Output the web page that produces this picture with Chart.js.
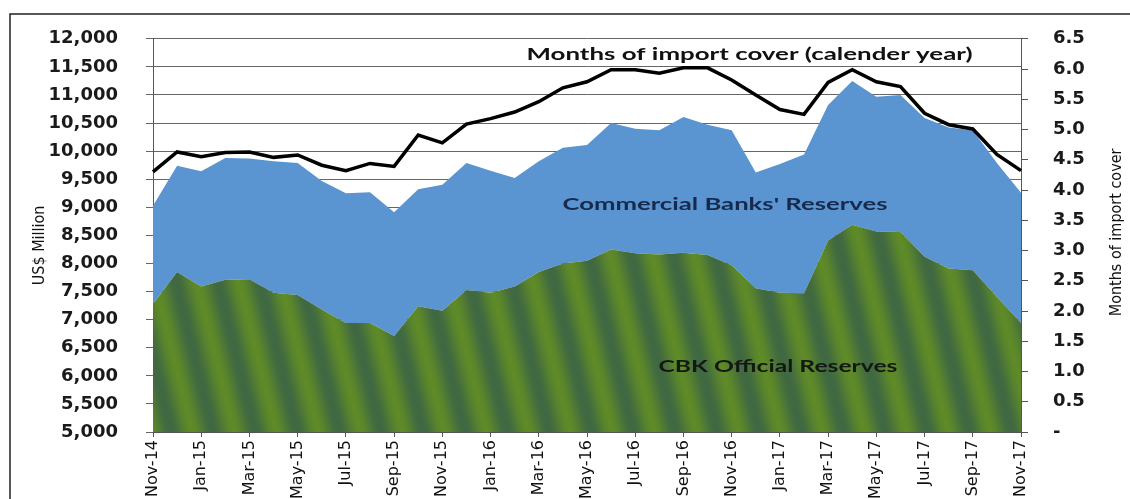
<!DOCTYPE html>
<html>
<head>
<meta charset="utf-8">
<script src="https://cdn.jsdelivr.net/npm/chart.js@4.4.1/dist/chart.umd.min.js"></script>
<style>
  html, body { margin: 0; padding: 0; background: #fff; }
  #wrap { width: 1130px; height: 499px; }
</style>
</head>
<body>
<div id="wrap"><canvas id="reservesChart" width="1130" height="499"></canvas></div>
<script>
// months, Nov-14 .. Nov-17
const months = ["Nov-14","Dec-14","Jan-15","Feb-15","Mar-15","Apr-15","May-15","Jun-15","Jul-15","Aug-15",
    "Sep-15","Oct-15","Nov-15","Dec-15","Jan-16","Feb-16","Mar-16","Apr-16","May-16","Jun-16",
    "Jul-16","Aug-16","Sep-16","Oct-16","Nov-16","Dec-16","Jan-17","Feb-17","Mar-17","Apr-17",
    "May-17","Jun-17","Jul-17","Aug-17","Sep-17","Oct-17","Nov-17"];

// US$ million (stacked: CBK at the bottom, commercial banks on top)
const cbkReserves = [7280,7850,7590,7710,7720,7480,7440,7180,6940,6940,
    6710,7240,7160,7530,7480,7590,7850,8000,8050,8250,
    8180,8160,8190,8150,7970,7560,7480,7470,8410,8690,
    8570,8560,8120,7910,7880,7410,6940];
const bankReserves = [1750,1890,2050,2170,2150,2340,2350,2290,2310,2330,
    2200,2080,2240,2260,2170,1930,1970,2060,2060,2250,
    2220,2210,2420,2320,2400,2060,2290,2470,2410,2560,
    2400,2440,2470,2510,2490,2380,2320];

// months of import cover (right axis)
const importCover = [4.30,4.63,4.55,4.62,4.63,4.54,4.58,4.41,4.32,4.44,
    4.39,4.91,4.78,5.09,5.18,5.29,5.46,5.69,5.79,5.99,
    5.99,5.93,6.02,6.02,5.82,5.57,5.33,5.25,5.78,5.99,
    5.79,5.71,5.27,5.08,5.01,4.59,4.32];

const leftTicks = { min: 5000, max: 12000, step: 500 };
const rightTicks = { min: 0, max: 6.5, step: 0.5 };

// striped green fill like the scanned original
function makeStripes() {
    const w = 42, h = 168;
    const c = document.createElement("canvas");
    c.width = w; c.height = h;
    const g = c.getContext("2d");
    const img = g.createImageData(w, h);
    const light = [94, 138, 40], dark = [64, 104, 66];
    for (let y = 0; y < h; y++) {
        for (let x = 0; x < w; x++) {
            const ph = ((x - 0.25 * y) % w + w) % w / w;
            const t = 0.5 + 0.5 * Math.cos(2 * Math.PI * ph);
            const k = (y * w + x) * 4;
            for (let j = 0; j < 3; j++) img.data[k + j] = Math.round(dark[j] + (light[j] - dark[j]) * t);
            img.data[k + 3] = 255;
        }
    }
    g.putImageData(img, 0, 0);
    return g.createPattern(c, "repeat");
}

// text squeezed/stretched to the width it has in the original
function wideText(ctx, text, cx, cy, width) {
    const sx = width / ctx.measureText(text).width;
    ctx.save();
    ctx.translate(cx, cy);
    ctx.scale(sx, 1);
    ctx.fillText(text, 0, 0);
    ctx.restore();
}

const textPlugin = {
    id: "textPlugin",
    afterDraw(chart) {
        const ctx = chart.ctx;
        const x = chart.scales.x, y = chart.scales.y;
        ctx.save();
        // outer frame
        ctx.strokeStyle = "#222";
        ctx.lineWidth = 1.5;
        ctx.beginPath();
        ctx.moveTo(10, 499); ctx.lineTo(10, 14); ctx.lineTo(1130, 14);
        ctx.stroke();

        ctx.textAlign = "center";
        ctx.textBaseline = "middle";
        ctx.font = "bold 17px Lato";
        ctx.fillStyle = "#111";
        wideText(ctx, "Months of import cover (calender year)", x.getPixelForValue(24.74), y.getPixelForValue(11714), 446);

        ctx.fillStyle = "#172a4c";
        wideText(ctx, "Commercial Banks' Reserves", x.getPixelForValue(23.72), y.getPixelForValue(9058), 325);
        ctx.fillStyle = "#141812";
        wideText(ctx, "CBK Official Reserves", x.getPixelForValue(25.92), y.getPixelForValue(6158), 239);

        // axis titles, both reading bottom to top
        ctx.font = "16px 'DejaVu Sans Condensed', 'DejaVu Sans'";
        ctx.fillStyle = "#111";
        const midY = (chart.chartArea.top + chart.chartArea.bottom) / 2;
        ctx.translate(40, midY + 10);
        ctx.rotate(-Math.PI / 2);
        ctx.fillText("US$ Million", 0, 0);
        ctx.rotate(Math.PI / 2);
        ctx.translate(-40, -(midY + 10));
        ctx.translate(1117, midY - 3);
        ctx.rotate(-Math.PI / 2);
        ctx.fillText("Months of import cover", 0, 0);
        ctx.restore();
    }
};

const ctx = document.getElementById("reservesChart").getContext("2d");
const tickFont = { family: "'DejaVu Sans'", size: 18, weight: "bold" };

new Chart(ctx, {
    type: "line",
    data: {
        labels: months,
        datasets: [
            {
                // first dataset is drawn last, so the line sits on top
                label: "Months of import cover",
                data: importCover,
                yAxisID: "y1",
                borderColor: "#000",
                borderWidth: 3.5,
                fill: false,
                pointRadius: 0,
                tension: 0
            },
            {
                label: "CBK Official Reserves",
                data: cbkReserves,
                yAxisID: "y",
                backgroundColor: makeStripes(),
                borderColor: "rgba(0,0,0,0)",
                borderWidth: 0,
                fill: "start",
                pointRadius: 0,
                tension: 0
            },
            {
                label: "Commercial Banks' Reserves",
                data: bankReserves,
                yAxisID: "y",
                backgroundColor: "#5a95d2",
                borderColor: "rgba(0,0,0,0)",
                borderWidth: 0,
                fill: "-1",
                pointRadius: 0,
                tension: 0
            }
        ]
    },
    options: {
        responsive: false,
        animation: false,
        devicePixelRatio: 1,
        layout: { padding: { top: 33, left: 0, right: 0, bottom: 0 } },
        plugins: {
            legend: { display: false },
            tooltip: { enabled: false }
        },
        scales: {
            x: {
                grid: { display: true, drawOnChartArea: false, drawTicks: true, tickLength: 5, color: "#555" },
                border: { display: true, color: "#555" },
                ticks: {
                    autoSkip: false,
                    maxRotation: 90,
                    minRotation: 90,
                    padding: 3,
                    color: "#111",
                    font: { family: "'DejaVu Sans'", size: 16 },
                    callback: function (val, i) { return i % 2 === 0 ? months[i] : null; }
                },
                afterFit: function (s) { s.height = 67; }
            },
            y: {
                position: "left",
                stacked: true,
                min: leftTicks.min,
                max: leftTicks.max,
                grid: { color: "#666", lineWidth: 1, tickLength: 7 },
                border: { display: true, color: "#555" },
                ticks: {
                    stepSize: leftTicks.step,
                    padding: 28,
                    color: "#1a1a1a",
                    font: tickFont,
                    callback: function (v) { return v.toLocaleString("en-US"); }
                },
                afterFit: function (s) { s.width = 153; }
            },
            y1: {
                position: "right",
                min: rightTicks.min,
                max: rightTicks.max,
                grid: { drawOnChartArea: false, tickLength: 7, color: "#555" },
                border: { display: true, color: "#555" },
                ticks: {
                    stepSize: rightTicks.step,
                    padding: 25,
                    color: "#1a1a1a",
                    font: tickFont,
                    callback: function (v) { return v === 0 ? "-" : v.toFixed(1); }
                },
                afterFit: function (s) { s.width = 109; }
            }
        }
    },
    plugins: [textPlugin]
});
</script>
</body>
</html>
